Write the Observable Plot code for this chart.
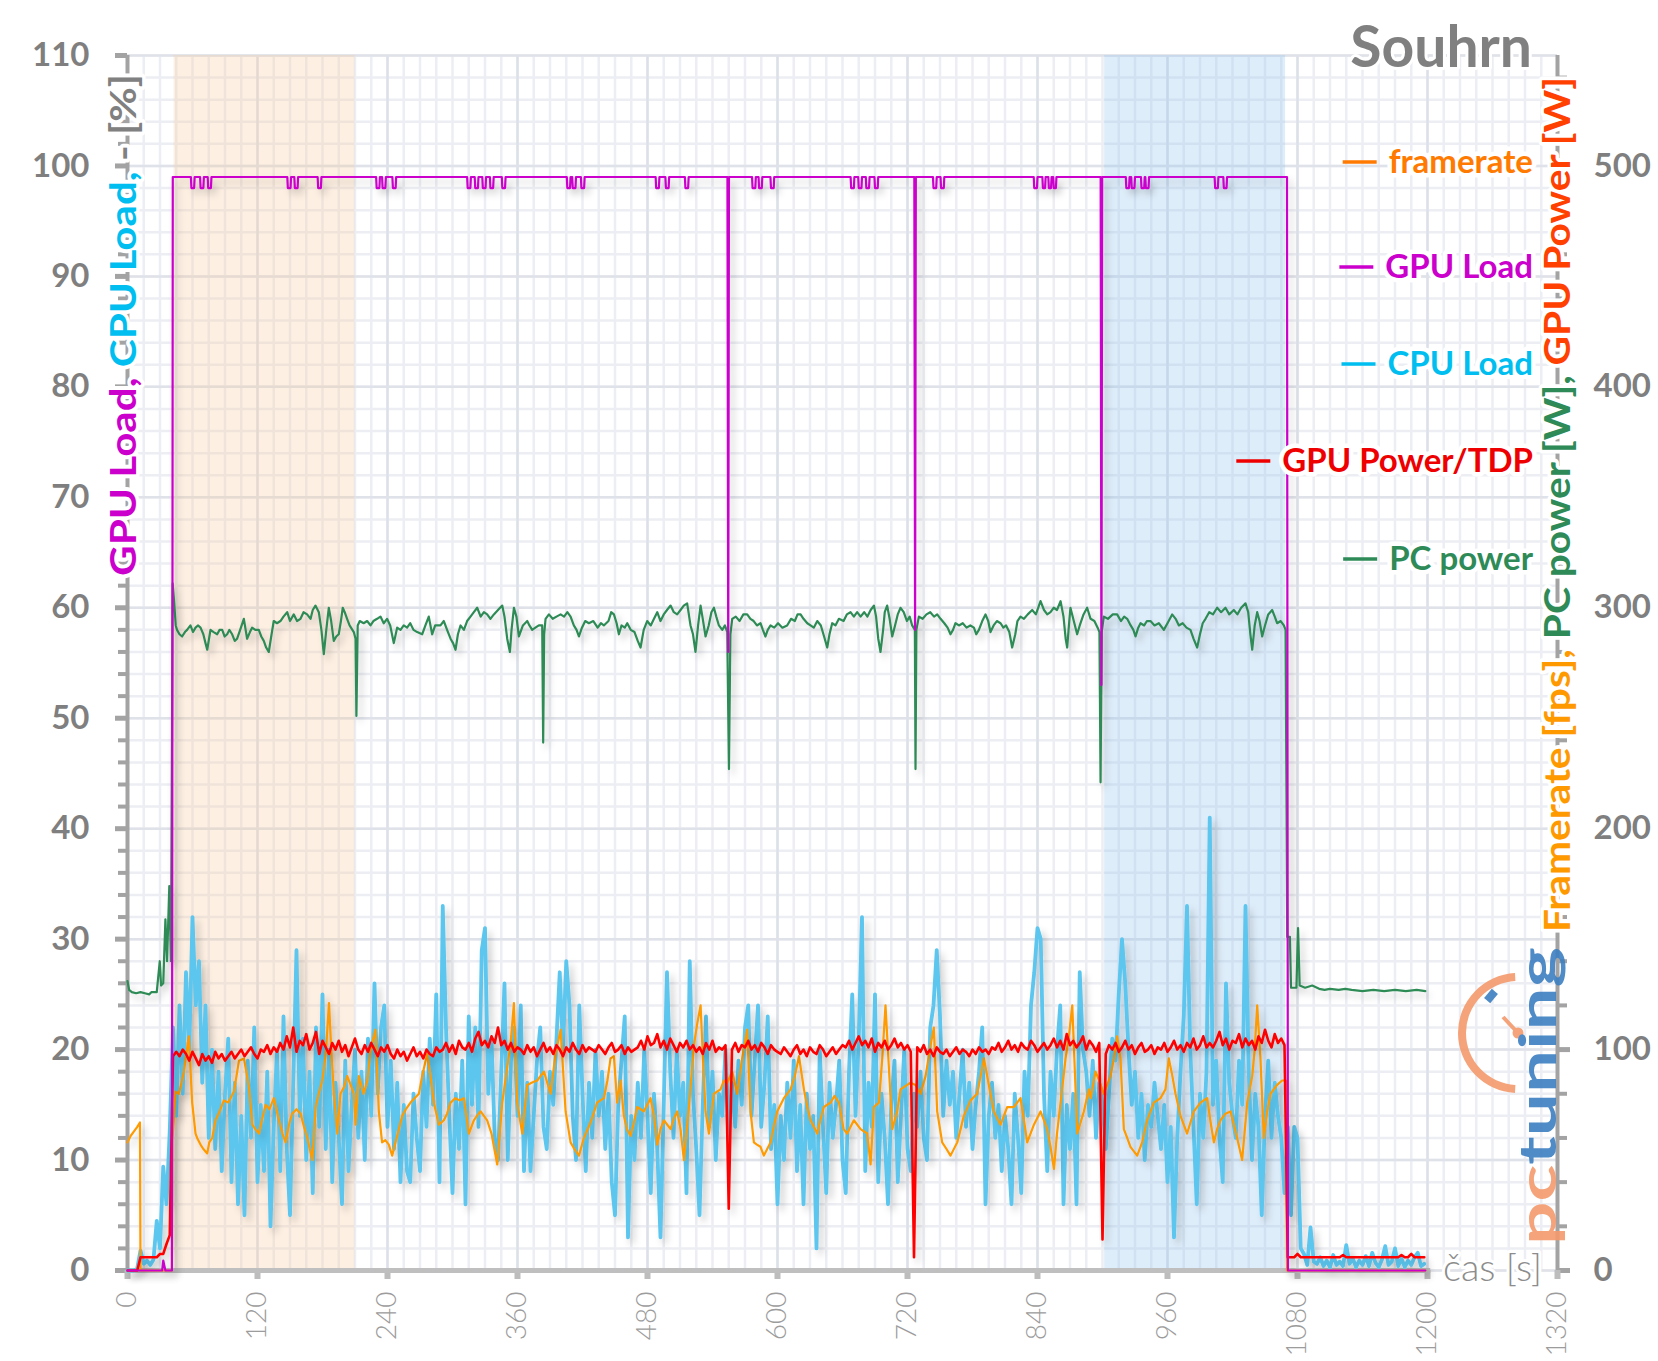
<!DOCTYPE html>
<html><head><meta charset="utf-8">
<script src="https://cdn.jsdelivr.net/npm/d3@7"></script>
<script src="https://cdn.jsdelivr.net/npm/@observablehq/plot@0.6"></script>
<style>html,body{margin:0;padding:0;background:#fff;} svg{display:block}</style>
</head><body><div id="chart"></div>
<script>
// ---------------- data ----------------
const xTicks = [0,120,240,360,480,600,720,840,960,1080,1200,1320];
const leftTicks = [0,10,20,30,40,50,60,70,80,90,100,110];
const rightTickValues = [0,20,40,60,80,100];          // position on the % scale
const rightTickLabels = ["0","100","200","300","400","500"];
const wattsPerPercent = 5;                              // right axis = 5 × left axis
const shadeOrange = [43, 210];
const shadeBlue = [902, 1069];

// CPU Load [%], one value every 3 s from t = 0
const cpuStep = 3;
const cpuLoad = [0,0,0,0.2,1.8,0.6,0.9,0.5,1.0,4.5,2.0,9.4,6.0,12.6,
22,14,24,16,27,20,32,24,28,17,24,12,20,11,18,9,16,21,8,17,
6,14,5,19,12,22,8,15,9,18,4,13,20,9,23,11,5,17,29,14,
21,10,18,7,22,13,25,11,20,8,17,12,6,19,9,15,20,12,18,10,
21,14,26,16,22,24,13,19,11,17,8,15,9,8,16,12,9,18,13,21,
15,25,8,33,22,14,7,16,11,19,6,23,15,22,13,29,31,16,21,12,
10,18,26,10,19,22,14,24,9,17,9,14,19,22,13,11,18,15,21,27,
20,28,24,14,10,24,16,9,17,12,20,14,18,11,16,8,5,15,19,23,
3,14,10,17,12,20,14,7,16,11,3,15,27,18,12,20,14,17,7,28,
16,11,5,15,23,13,18,10,16,14,20,12,17,13,19,15,22,24,14,19,
24,13,17,23,11,15,6,14,10,17,12,19,9,15,6,16,11,14,2,20,
13,7,17,12,15,19,10,7,18,25,14,21,32,9,17,13,25,8,16,12,
6,15,19,8,14,20,11,9,16,13,18,12,10,22,24,29,23,14,19,15,
18,12,16,20,13,17,11,15,18,22,6,14,17,12,15,9,14,11,6,16,
12,7,18,14,24,27,31,30,16,9,18,14,20,24,6,15,11,16,6,27,
20,18,14,19,12,17,15,11,16,21,19,25,30,26,20,15,18,12,16,10,
15,13,17,14,11,15,8,13,3,12,18,23,33,20,13,6,16,12,18,41,
15,19,12,8,26,17,14,12,19,15,33,18,10,16,13,5,14,19,12,17,
14,12,7,13,5,13,12,2,1.5,0.5,3.9,0.8,
0.6,1.2,0.4,0.9,0.3,1.4,0.5,0.8,0.4,2.3,0.6,1.1,0.3,0.9,0.5,1.3,0.4,1.6,0.7,0.3,
1.0,2.2,0.5,0.8,2.0,0.4,1.1,0.3,0.9,0.5,1.2,1.6,0.4,0.6];

// GPU Power [W], one value every 3 s from t = 0
const gpuPowerStep = 3;
const gpuPower = [0,0,0,0, 6,6,6,6,6,6, 7.5,7.5,12,16, 97,
99,97,100,98,95,99,96,93,98,95,97,94,99,96,98,95,97,99,96,
98,100,97,99,101,98,96,100,99,102,98,101,99,
103,100,106,101,110,99,104,102,107,100,103,108,98,104,
101,98,103,100,104,99,102,97,101,105,100,98,102,99,103,100,97,101,99,102,
98,96,100,97,99,95,98,101,97,99,96,100,98,97,101,99,
100,103,99,102,98,104,101,100,103,99,105,108,102,104,
101,106,103,110,102,104,100,103,99,101,
100,98,102,99,101,97,100,103,99,101,98,102,100,97,101,99,103,100,98,102,99,101,100,
99,102,100,98,101,103,99,100,102,98,101,99,100,
101,104,100,106,102,103,107,101,104,100,105,102,99,103,101,104,100,
102,99,101,98,103,100,104,99,101,100,102,
28,
100,103,99,102,101,104,100,102,99,103,101,98,102,100,99,
98,101,99,97,100,102,98,100,97,101,99,98,102,100,97,99,101,98,100,102,
101,104,100,103,106,102,104,101,105,99,103,101,104,100,102,105,101,103,100,102,99,
6,
101,99,102,98,100,97,101,99,98,100,97,99,101,98,100,99,97,100,98,101,99,100,98,101,
100,103,99,101,104,100,102,99,103,101,100,104,102,99,101,103,100,
102,105,101,104,100,107,102,104,101,103,106,100,104,102,99,103,
14,
98,102,100,103,99,101,104,100,102,98,101,103,99,100,102,98,101,100,103,99,
101,104,100,102,99,103,101,105,100,102,106,101,103,
101,104,108,102,105,100,104,103,107,101,105,102,104,100,106,103,109,104,101,107,103,105,102,
6,
6,6,7.5,6,6,6,6,6,6,6, 6,6,6,6,6,6,7,6,6,6, 6,6,6,6,6,6,6,6,6,6, 6,6,6,6,7,6,6,7.5,6,6, 6,6];

// Framerate [fps] as [t, fps]
const framerate = [[0,58],[3,61],[6,63],[9,65],[11.5,67],[12,0],[41,0],[41.5,59],[44.3,81],[47.4,80],[49,83],[52,90],[56.6,106],[59.7,76],[62.8,62],[64.3,60],[67.4,57],[70,55],[73.6,53],[75.5,58],[78.2,60],[81.3,68],[85,72],[89,77],[93,76],[98.3,81],[102.9,95],[107.5,96],[112.1,83],[115.2,66],[118,64],[121.4,62],[124,68],[127.5,75],[131,73],[135.2,78],[139.8,68],[143,62],[146,58],[149,66],[152,71],[156,73],[159.8,71],[163,65],[166,60],[170.6,50],[173.7,74],[176.5,80],[179.8,86],[183,98],[186,121],[188.5,96],[190.6,80],[193.7,62],[196.6,80],[199.9,83],[202.8,88],[206,84],[209,80],[210.5,66],[213.5,88],[218,80],[221.5,86],[224.3,100],[228.9,109],[232,72],[235,58],[238,59],[241.2,57],[244.3,52],[247.4,58],[250.5,64],[253.6,70],[257,73],[261.3,76],[265,78],[269,80],[272,88],[276.6,98],[279.7,88],[282.8,76],[287.4,66],[292,68],[295,71],[298.2,76],[302.8,78],[306.5,77],[310.5,78],[315.1,62],[319.7,68],[322.5,70],[325.9,72],[329,70],[332,68],[336,62],[341.3,48],[345.9,76],[350.5,92],[353.5,102],[356.7,121],[359.7,76],[364.4,62],[369,84],[373,85],[378.2,86],[384.4,90],[387.5,85],[390.5,80],[395.1,98],[399.8,109],[404.4,72],[409,58],[412.5,55],[416.7,52],[421.3,60],[427.4,67],[433.5,76],[439.7,78],[443,86],[445.9,96],[449,97],[452,76],[455.1,86],[458.2,70],[461,64],[464.3,61],[467,66],[470.5,74],[476.6,72],[482.8,78],[486,70],[489,57],[492,64],[495.1,68],[501.3,64],[504.5,69],[507.4,72],[510.5,64],[513.6,50],[518.2,74],[522.8,102],[526,112],[529,120],[531,98],[533.6,72],[536.7,62],[541.3,80],[547.4,82],[550.5,86],[553.6,85],[558.2,90],[562.8,80],[567.4,96],[572,109],[575.1,72],[578.2,58],[581,57],[584.3,56],[587.4,52],[590.5,55],[593.6,58],[596.5,65],[599.7,72],[605.9,78],[612.1,82],[616,88],[619.8,97],[624.4,82],[627.5,74],[630.5,68],[636.7,62],[639.5,68],[642.8,74],[649,76],[652.5,79],[656.7,76],[661,64],[664.3,62],[670.5,68],[676.7,64],[682.8,62],[685.9,48],[689,74],[693.6,76],[696.7,96],[699.7,120],[702.8,92],[705.9,64],[710.5,72],[713.6,82],[719.7,84],[722.8,85],[727.4,84],[732,80],[736.7,88],[741.3,102],[744.3,110],[747.4,72],[752,58],[756,55],[759.7,52],[765.9,58],[769,64],[772,70],[778.2,77],[784.3,80],[787.5,88],[790.5,96],[795.1,84],[799.7,72],[805.9,66],[809,70],[812,74],[818.2,74],[824.3,78],[827.5,68],[830.5,58],[836.7,66],[842.8,72],[846,68],[849,64],[852,56],[855.2,46],[858,62],[861.3,76],[865.9,96],[869,106],[872.1,120],[874.5,90],[876.7,62],[882.8,72],[887.4,82],[889,78],[893.5,90],[897,86],[901.2,80],[907.4,88],[910.5,96],[913.5,106],[916.6,96],[919.7,64],[922.8,60],[925.8,56],[932,52],[936.6,58],[941.2,68],[947.4,76],[953.5,78],[958.1,82],[961.2,96],[964.5,88],[967.4,80],[972,70],[975,66],[978.1,62],[984.3,72],[990.5,76],[996.6,78],[999.5,68],[1002.8,58],[1005.8,64],[1008.9,68],[1013.5,71],[1018.2,72],[1021.3,66],[1024.3,60],[1028.9,50],[1033.6,76],[1038.2,88],[1040.5,100],[1042.8,120],[1045.8,96],[1048.9,60],[1052,72],[1055.1,80],[1061.2,84],[1065.8,86],[1069.3,86],[1070.2,0],[1198,0]];

// PC power [W] as [t, W]
const pcPower = [[0,131],[1.5,127],[4,126],[8,125.5],[12,126],[16,125.5],[20,125],[22,126],[27,126],[29.8,140],[31,129],[33,130],[35,159],[36.5,140],[38.6,174],[40.1,140],[41.7,311],[43,303],[44.5,292],[45.7,290],[48,288],[50.4,287],[53,289],[55,290],[58.1,292],[60.5,289],[62.8,291],[65,292],[67.4,291],[70,288],[72,284],[73.6,281],[76.6,290],[79.5,289],[82.8,288],[85,290],[87.4,290],[89.7,287],[92,288],[94,290],[96.6,288],[99,285],[101.2,286],[104,290],[107.4,295],[110.4,286],[113,289],[115,291],[118,290],[121.2,290],[123.5,287],[125.8,285],[128,282],[130.4,280],[133,288],[135,294],[138,293],[141.2,294],[144,296],[147.4,298],[150,294],[153.5,297],[156.5,294],[159.7,295],[162.5,298],[165.8,297],[169,295],[171,299],[173.5,301],[176.6,298],[179,290],[181.2,279],[183.5,290],[185.8,300],[188,294],[190.4,285],[192.7,287],[195,288],[197,294],[198.7,300],[200.5,298],[202.7,295],[205,292],[208.9,289],[210.5,286],[211.3,251],[212.5,292],[214.4,294],[218,293],[221.2,294],[224.3,292],[227,294],[230.4,295],[233.5,296],[236.5,293],[239.6,295],[242.5,292],[245.8,284],[248.9,291],[252,290],[255,292],[258.1,291],[261,293],[264,290],[267.4,289],[272,288],[275,292],[278.1,296],[281.2,288],[284,292],[288.9,292],[292,294],[295,290],[298.2,286],[300.5,284],[302.8,281],[305,288],[307.4,292],[310.5,290],[313.5,294],[316.6,296],[319.7,298],[322.8,300],[326,296],[329,298],[332,297],[335,295],[338.2,297],[342,299],[345.9,301],[348,296],[350.5,286],[353,280],[354.5,290],[356.7,300],[359,296],[361.3,287],[365,292],[369,294],[371,292],[373.6,290],[376.5,291],[379.7,292],[382.8,292],[383.7,239],[384.6,288],[385.9,295],[389,297],[392.5,295],[396,296],[399.8,297],[403,296],[406,298],[409,296],[412,292],[414.5,290],[416.7,287],[419.5,291],[422.5,294],[425.9,293],[430,294],[434,291],[437,293],[439.7,292],[444,294],[446.5,298],[449,297],[451.5,293],[453.6,288],[456,292],[459,291],[461.3,293],[464.5,290],[468,289],[471,285],[473.6,282],[476.5,290],[479.7,294],[483,292],[486,295],[489,298],[492,294],[495,297],[498,299],[501.3,301],[504.3,298],[507.4,297],[510.5,299],[513.5,301],[516.6,302],[519.7,292],[522,288],[524.3,280],[526.7,292],[529,301],[531,295],[533.6,287],[536.5,292],[539,298],[541.3,300],[543.5,296],[545.9,292],[549,290],[551.5,292],[553.6,289],[555.2,227],[556.5,288],[558.2,295],[561.5,296],[565,294],[568.5,297],[572,297],[575,295],[578,294],[581,292],[584.3,293],[586.5,290],[588.9,287],[591,290],[593.6,292],[597,291],[600.5,293],[604.5,291],[608.9,292],[612.5,295],[616,294],[618.5,297],[621.3,297],[624,295],[627.5,293],[630.5,292],[633.5,291],[636.7,294],[640,292],[643,287],[645.9,282],[648,288],[650.5,293],[653.5,292],[656.7,295],[661,294],[664,297],[667.4,298],[670.5,296],[673.5,298],[676.7,296],[680,298],[683,296],[686,299],[689,301],[691,296],[693,286],[695.1,280],[697.5,290],[699,298],[701.2,301],[703.5,295],[705.9,287],[708.5,292],[711,297],[713.6,300],[716.5,298],[719.5,294],[722,296],[724.3,292],[726.8,290],[727.4,227],[728.2,290],[730.5,296],[734,295],[737.5,297],[741,298],[744.5,296],[747.4,297],[750.5,295],[754,293],[757,291],[759.7,288],[762,290],[764.3,293],[767.5,292],[771,293],[774.5,291],[778,292],[781.3,291],[783.5,288],[785.9,290],[789,294],[792,297],[794.5,294],[796.6,289],[799.5,292],[802.5,294],[805.9,293],[808.5,291],[811,292],[814,289],[816.6,282],[819.5,288],[821.5,294],[824.3,296],[827.5,295],[831,297],[835.1,299],[838.5,297],[842.8,303],[846,299],[849,297],[852,298],[855,300],[858,299],[861.3,303],[864,296],[866,286],[867.4,282],[869,292],[870.4,300],[873.5,294],[876.6,288],[879,292],[882.5,297],[885.8,300],[889,295],[892.5,294],[895.5,291],[897.2,289],[898.2,221],[899.3,289],[901.2,296],[905,295],[909.5,297],[913.5,297],[917,294],[920,296],[922.8,295],[926,292],[928.5,290],[930.5,287],[933,291],[935.1,293],[938.5,292],[941,294],[944.3,294],[948,292],[952,293],[956.6,290],[960,293],[964.3,297],[967.5,295],[970.5,292],[974,293],[977.5,291],[981.2,290],[984,286],[987.4,282],[990,288],[992.5,293],[995.1,295],[998.5,298],[1002,297],[1005.8,300],[1009.5,298],[1013.5,300],[1017,297],[1021.2,299],[1024.5,297],[1028,300],[1032,302],[1034.5,298],[1036.5,288],[1038.2,281],[1040.5,292],[1042.8,298],[1045,294],[1047.4,287],[1050,292],[1053,297],[1056.6,299],[1059,296],[1061.2,293],[1064.5,294],[1067.4,292],[1069,290],[1070.5,151],[1073,151],[1074,128],[1079,128],[1080.5,155],[1082,129],[1087,128],[1093.6,129],[1100,127.5],[1105,127],[1110,127.5],[1118,127],[1124,127.5],[1130,127],[1140,126.5],[1150,127],[1160,126.5],[1170,127],[1180,126.5],[1190,127],[1198,126.5]];

// GPU Load [%]: idle part, load level, short dips and deep drops
const gpuLoadIdleStart = [[0,0],[32,0],[33,0.9],[35,0],[41,0]];
const gpuLoadOnTime = 41.8;
const gpuLoadHigh = 99;
const gpuLoadDipLevel = 98;
const gpuLoadDips = [[59,61.5],[67.5,70],[74.5,77],[148,150.5],[154.5,157],[176,178.5],[230,232.5],[235.5,238],[245,247.5],[314,316.5],[321,323.5],[328,330.5],[335,337.5],[346,348.5],[406,408.5],[411,413.5],[419,421.5],[488,490.5],[497,499.5],[515,517.5],[577,579.5],[583,585.5],[594,596.5],[668,670.5],[675,677.5],[682,684.5],[690,692.5],[744,746.5],[751,753.5],[837,839.5],[845,847],[850.5,852.5],[855,857],[922,924.5],[927,929.5],[936,938.5],[940,942.5],[1004,1006.5],[1012,1014.5]];
const gpuLoadDrops = [[554.5,56],[727,58],[899,53]];
const gpuLoadIdleEnd = [[1070.3,99],[1071.2,0],[1198,0]];

const legendLabels = ["framerate","GPU Load","CPU Load","GPU Power/TDP","PC power"];
const legendColors = ["#ff7a00","#cc00cc","#00bff0","#ee0000","#2e8b57"];

// ---------------- tables ----------------
const cpuTable = cpuLoad.map((v,i) => ({t: i*cpuStep, v}));
const gpuPowerTable = gpuPower.map((w,i) => ({t: i*gpuPowerStep, v: w / wattsPerPercent}));
const fpsTable = framerate.map(([t,f]) => ({t, v: f / wattsPerPercent}));
const pcTable = pcPower.map(([t,w]) => ({t, v: w / wattsPerPercent}));
const loadEvents = [
  ...gpuLoadDips.flatMap(([a,b]) => [[a-0.5,gpuLoadHigh],[a,gpuLoadDipLevel],[b,gpuLoadDipLevel],[b+0.5,gpuLoadHigh]]),
  ...gpuLoadDrops.flatMap(([t,v]) => [[t-0.7,gpuLoadHigh],[t,v],[t+0.7,gpuLoadHigh]])
].sort((a,b) => a[0]-b[0]);
const gpuLoadTable = [...gpuLoadIdleStart, [gpuLoadOnTime, gpuLoadHigh], ...loadEvents, ...gpuLoadIdleEnd].map(([t,v]) => ({t, v}));

const minorX = d3.range(0, 1321, 15);
const minorY = d3.range(0, 111, 2);
const leftMinor = d3.range(0, 111, 2).filter(v => v % 10);
const rightMinor = d3.range(0, 111, 4).filter(v => v % 20);

const chart = Plot.plot({
  width: 1658, height: 1361,
  marginLeft: 127, marginRight: 101, marginTop: 55, marginBottom: 91,
  style: {fontFamily: "Lato, 'Open Sans', sans-serif", background: "#fff", overflow: "visible"},
  x: {domain: [0, 1320]},
  y: {domain: [0, 110]},
  marks: [
    Plot.ruleX(minorX, {stroke: "#eceef3", strokeWidth: 2.5}),
    Plot.ruleY(minorY, {stroke: "#eceef3", strokeWidth: 2.5}),
    Plot.ruleX(xTicks, {stroke: "#dce0e8", strokeWidth: 2.5}),
    Plot.ruleY(leftTicks, {stroke: "#dfe2e9", strokeWidth: 2.5}),
    Plot.rect([shadeOrange], {x1: d => d[0], x2: d => d[1], y1: 0, y2: 110, fill: "#f8c9a0", fillOpacity: 0.3}),
    Plot.rect([shadeBlue], {x1: d => d[0], x2: d => d[1], y1: 0, y2: 110, fill: "#91c3f0", fillOpacity: 0.3}),
    // axes
    Plot.axisY(leftTicks, {anchor: "left", tickSize: 12, tickPadding: 26, stroke: "#a3a3a3", strokeWidth: 5, fill: "#7f7f7f", fontSize: 33, fontWeight: "bold", label: null}),
    Plot.axisY(leftMinor, {anchor: "left", tickSize: 9, stroke: "#a3a3a3", strokeWidth: 4, tickFormat: () => "", label: null}),
    Plot.axisY(rightTickValues, {anchor: "right", tickSize: 12, tickPadding: 24, stroke: "#a3a3a3", strokeWidth: 5, fill: "#7f7f7f", fontSize: 33, fontWeight: "bold", tickFormat: (d, i) => rightTickLabels[i], label: null}),
    Plot.axisY(rightMinor, {anchor: "right", tickSize: 9, stroke: "#a3a3a3", strokeWidth: 4, tickFormat: () => "", label: null}),
    Plot.axisX(xTicks, {anchor: "bottom", tickSize: 9, tickPadding: 12, tickRotate: -90, stroke: "#bdbdbd", strokeWidth: 6, fill: "#9c9c9c", fontSize: 28, fontWeight: 300, tickFormat: d => String(d), label: null}),
    Plot.ruleY([0], {x1: 0, x2: 1203, stroke: "#bfbfbf", strokeWidth: 5}),
    Plot.ruleX([0], {stroke: "#a3a3a3", strokeWidth: 4}),
    Plot.ruleX([1320], {stroke: "#a3a3a3", strokeWidth: 4}),
    // series
    Plot.line(cpuTable, {x: "t", y: "v", stroke: "#5bc6ef", strokeWidth: 3.8}),
    Plot.line(fpsTable, {x: "t", y: "v", stroke: "#ff9a00", strokeWidth: 2.2}),
    Plot.line(gpuPowerTable, {x: "t", y: "v", stroke: "#ff0000", strokeWidth: 2.6}),
    Plot.line(pcTable, {x: "t", y: "v", stroke: "#2e8b57", strokeWidth: 2.2}),
    Plot.line(gpuLoadTable, {x: "t", y: "v", stroke: "#cc00cc", strokeWidth: 2.2})
  ]
});
document.getElementById("chart").append(chart);

// ---------------- decorations ----------------
const svg = d3.select(chart);
const defs = svg.insert("defs", ":first-child");
defs.append("filter").attr("id", "lineShadow").attr("filterUnits", "userSpaceOnUse")
  .attr("x", 0).attr("y", 0).attr("width", 1658).attr("height", 1361)
  .append("feDropShadow").attr("dx", 4).attr("dy", 5).attr("stdDeviation", 3.5)
  .attr("flood-color", "#000").attr("flood-opacity", 0.2);
svg.selectAll('g[aria-label="line"]').attr("filter", "url(#lineShadow)");

function halo(sel, w) {
  return sel.attr("stroke", "#fff").attr("stroke-width", w).attr("stroke-linejoin", "round").attr("paint-order", "stroke");
}

// Left axis title
const lt = svg.append("text").attr("transform", "translate(136,576) rotate(-90)")
  .attr("text-anchor", "start").attr("font-size", 37).attr("font-weight", "bold")
  .attr("textLength", 502).attr("lengthAdjust", "spacingAndGlyphs");
halo(lt, 7);
lt.append("tspan").attr("fill", "#cc00cc").text("GPU Load, ");
lt.append("tspan").attr("fill", "#00bff0").text("CPU Load, ");
lt.append("tspan").attr("fill", "#808080").text("- [%]");

// Right axis title
const rt = svg.append("text").attr("transform", "translate(1570,932) rotate(-90)")
  .attr("text-anchor", "start").attr("font-size", 37).attr("font-weight", "bold")
  .attr("textLength", 855).attr("lengthAdjust", "spacingAndGlyphs");
halo(rt, 7);
rt.append("tspan").attr("fill", "#ff9900").text("Framerate [fps], ");
rt.append("tspan").attr("fill", "#2e8b57").text("PC power [W], ");
rt.append("tspan").attr("fill", "#ff4000").text("GPU Power [W]");

// Title
halo(svg.append("text").attr("x", 1532).attr("y", 67).attr("text-anchor", "end")
  .attr("font-size", 57).attr("font-weight", "bold").attr("fill", "#808080").text("Souhrn"), 6);

// Legend
const legendY = [173, 278, 375, 472, 570];
legendLabels.forEach((name, i) => {
  const t = svg.append("text").attr("x", 1533).attr("y", legendY[i]).attr("text-anchor", "end")
    .attr("font-size", 33).attr("font-weight", "bold").attr("fill", legendColors[i]).text(name);
  halo(t, 9);
  const w = t.node().getComputedTextLength();
  const x2 = 1533 - w - 12;
  svg.append("line").attr("x1", x2 - 34).attr("x2", x2).attr("y1", legendY[i] - 11).attr("y2", legendY[i] - 11)
    .attr("stroke", legendColors[i]).attr("stroke-width", 3.5);
});

// x axis name
halo(svg.append("text").attr("x", 1443).attr("y", 1281).attr("text-anchor", "start")
  .attr("font-size", 38).attr("font-weight", 300).attr("fill", "#8c8c8c").text("čas [s]"), 6);

// pctuning watermark
const logo = svg.append("g").attr("opacity", 0.9);
logo.append("path")
  .attr("d", d3.arc()({innerRadius: 52, outerRadius: 60, startAngle: -0.05, endAngle: -Math.PI + 0.05}))
  .attr("transform", "translate(1518,1033)").attr("fill", "#f49a6c");
logo.append("line").attr("x1", 1518).attr("y1", 1033).attr("x2", 1503).attr("y2", 1017)
  .attr("stroke", "#f49a6c").attr("stroke-width", 4);
logo.append("circle").attr("cx", 1518).attr("cy", 1033).attr("r", 5.5).attr("fill", "#f49a6c");
logo.append("rect").attr("x", 1487).attr("y", 990).attr("width", 8).attr("height", 12)
  .attr("transform", "rotate(40,1491,996)").attr("fill", "#3d7fc1");
const lg = logo.append("text").attr("transform", "translate(1556,1245) rotate(-90)")
  .attr("text-anchor", "start").attr("font-size", 52).attr("font-weight", "bold")
  .attr("textLength", 298).attr("lengthAdjust", "spacingAndGlyphs");
lg.append("tspan").attr("fill", "#f49a6c").text("pc");
lg.append("tspan").attr("fill", "#3d7fc1").text("tuning");
</script>
</body></html>
